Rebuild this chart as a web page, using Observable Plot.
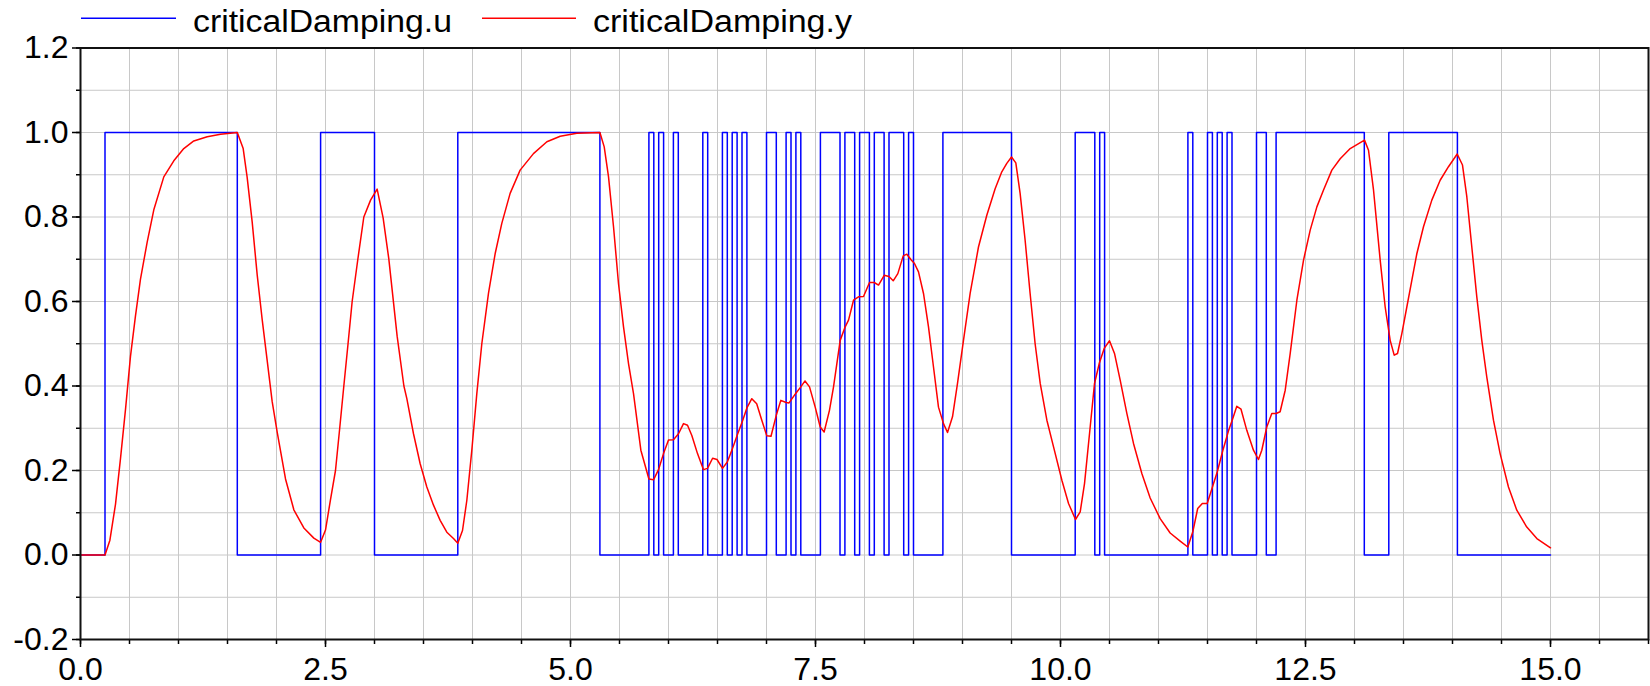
<!DOCTYPE html>
<html>
<head>
<meta charset="utf-8">
<script src="https://cdn.jsdelivr.net/npm/d3@7"></script>
<script src="https://cdn.jsdelivr.net/npm/@observablehq/plot@0.6"></script>
<style>
  html, body { margin: 0; padding: 0; background: white; }
  #wrap { width: 1650px; height: 686px; position: relative; overflow: hidden; }
  #legend { position: absolute; left: 0; top: 0; z-index: 2; overflow: visible; }
  #chart { position: absolute; left: 0; top: 36px; }
</style>
</head>
<body>
<div id="wrap">
  <div id="chart"></div>
  <svg id="legend" width="1650" height="46"></svg>
</div>
<script>
// ---- Series names / colours ----
const seriesNames = ["criticalDamping.u", "criticalDamping.y"];
const seriesColors = ["#0000ff", "#ff0000"];

// ---- criticalDamping.u : switching times and values (step signal) ----
const uTimes = [0, 0.25, 1.6, 2.45, 3.0, 3.85, 5.3, 5.8, 5.85, 5.9, 5.95, 6.05, 6.1, 6.35, 6.4,
  6.55, 6.6, 6.65, 6.7, 6.75, 6.8, 7.0, 7.1, 7.2, 7.25, 7.3, 7.35, 7.55, 7.75, 7.8, 7.9,
  7.95, 8.05, 8.1, 8.2, 8.25, 8.4, 8.45, 8.5, 8.8, 9.5, 10.15, 10.35, 10.4, 10.45, 11.3,
  11.35, 11.5, 11.55, 11.6, 11.65, 11.7, 11.75, 12.0, 12.1, 12.2, 13.1, 13.35, 14.05, 15.0];
const uValues = [0, 1, 0, 1, 0, 1, 0, 1, 0, 1, 0, 1, 0, 1, 0,
  1, 0, 1, 0, 1, 0, 1, 0, 1, 0, 1, 0, 1, 0, 1, 0,
  1, 0, 1, 0, 1, 0, 1, 0, 1, 0, 1, 0, 1, 0, 1,
  0, 1, 0, 1, 0, 1, 0, 1, 0, 1, 0, 1, 0, 0];

const yTimes = [0, 0.25, 0.30, 0.357, 0.408, 0.459, 0.51, 0.561, 0.612, 0.68, 0.748, 0.85, 0.952,
  1.054, 1.156, 1.293, 1.429, 1.6, 1.66, 1.70, 1.752, 1.803, 1.854, 1.905, 1.956, 2.007,
  2.092, 2.177, 2.279, 2.381, 2.45, 2.5, 2.551, 2.602, 2.645, 2.687, 2.73, 2.772, 2.83,
  2.891, 2.96, 3.027, 3.088, 3.146, 3.231, 3.30, 3.33, 3.398, 3.466, 3.534, 3.602, 3.67,
  3.738, 3.806, 3.85, 3.898, 3.942, 3.993, 4.044, 4.095, 4.163, 4.231, 4.299, 4.384,
  4.486, 4.622, 4.759, 4.895, 5.065, 5.3, 5.344, 5.388, 5.439, 5.49, 5.541, 5.592, 5.643,
  5.718, 5.80, 5.847, 5.898, 5.949, 6.0, 6.051, 6.102, 6.153, 6.194, 6.238, 6.296, 6.357,
  6.398, 6.45, 6.495, 6.551, 6.60, 6.65, 6.70, 6.755, 6.80, 6.85, 6.90, 6.952, 7.003,
  7.046, 7.099, 7.146, 7.20, 7.23, 7.30, 7.35, 7.393, 7.439, 7.497, 7.548, 7.588, 7.643,
  7.684, 7.718, 7.752, 7.803, 7.837, 7.888, 7.939, 7.99, 8.051, 8.099, 8.143, 8.201,
  8.25, 8.293, 8.34, 8.395, 8.432, 8.475, 8.51, 8.551, 8.602, 8.653, 8.704, 8.755, 8.806,
  8.847, 8.898, 8.949, 9.01, 9.078, 9.163, 9.248, 9.333, 9.401, 9.452, 9.5, 9.544, 9.588,
  9.639, 9.69, 9.741, 9.793, 9.861, 9.929, 10.014, 10.082, 10.153, 10.201, 10.245, 10.296,
  10.347, 10.395, 10.446, 10.5, 10.551, 10.609, 10.677, 10.745, 10.83, 10.915, 11.017,
  11.119, 11.221, 11.299, 11.35, 11.40, 11.447, 11.497, 11.548, 11.60, 11.657, 11.716,
  11.752, 11.799, 11.842, 11.901, 11.969, 12.02, 12.054, 12.105, 12.156, 12.2, 12.241,
  12.293, 12.344, 12.412, 12.48, 12.548, 12.616, 12.684, 12.769, 12.854, 12.956, 13.102,
  13.143, 13.194, 13.262, 13.313, 13.364, 13.405, 13.439, 13.483, 13.534, 13.585, 13.636,
  13.704, 13.789, 13.874, 13.959, 14.048, 14.102, 14.146, 14.197, 14.248, 14.299, 14.35,
  14.418, 14.486, 14.571, 14.656, 14.758, 14.861, 15.0];
const yValues = [0, 0, 0.035, 0.12, 0.228, 0.344, 0.47, 0.566, 0.653, 0.74, 0.817, 0.895, 0.933,
  0.962, 0.98, 0.99, 0.996, 1.0, 0.962, 0.895, 0.788, 0.663, 0.557, 0.46, 0.363, 0.291,
  0.18, 0.107, 0.064, 0.04, 0.03, 0.059, 0.131, 0.2, 0.3, 0.4, 0.5, 0.6, 0.7,
  0.8, 0.84, 0.866, 0.798, 0.701, 0.518, 0.40, 0.37, 0.287, 0.216, 0.161, 0.118, 0.082,
  0.054, 0.039, 0.028, 0.058, 0.129, 0.248, 0.382, 0.5, 0.619, 0.713, 0.785, 0.856,
  0.911, 0.95, 0.978, 0.991, 0.998, 1.0, 0.966, 0.895, 0.777, 0.642, 0.54, 0.453, 0.382,
  0.248, 0.18, 0.178, 0.202, 0.24, 0.272, 0.273, 0.287, 0.311, 0.307, 0.283, 0.24, 0.202,
  0.205, 0.229, 0.226, 0.205, 0.22, 0.25, 0.283, 0.317, 0.348, 0.370, 0.358, 0.319, 0.282,
  0.281, 0.33, 0.366, 0.361, 0.36, 0.383, 0.398, 0.412, 0.398, 0.35, 0.303, 0.291, 0.343,
  0.398, 0.453, 0.508, 0.54, 0.556, 0.603, 0.611, 0.612, 0.645, 0.645, 0.639, 0.662,
  0.659, 0.649, 0.666, 0.708, 0.712, 0.699, 0.69, 0.67, 0.619, 0.54, 0.445, 0.35, 0.311,
  0.29, 0.327, 0.406, 0.508, 0.619, 0.729, 0.804, 0.867, 0.907, 0.927, 0.942, 0.928, 0.856,
  0.745, 0.619, 0.5, 0.406, 0.319, 0.256, 0.177, 0.122, 0.084, 0.102, 0.169, 0.287,
  0.406, 0.453, 0.489, 0.507, 0.477, 0.414, 0.335, 0.264, 0.193, 0.135, 0.086,
  0.052, 0.033, 0.019, 0.055, 0.11, 0.122, 0.122, 0.159, 0.197, 0.248, 0.295,
  0.319, 0.352, 0.345, 0.295, 0.248, 0.226, 0.248, 0.303, 0.335, 0.335, 0.339,
  0.39, 0.477, 0.603, 0.698, 0.769, 0.824, 0.864, 0.911, 0.938, 0.962, 0.982,
  0.958, 0.864, 0.698, 0.587, 0.508, 0.473, 0.477, 0.524, 0.587, 0.65, 0.713,
  0.777, 0.84, 0.887, 0.919, 0.949, 0.923, 0.848, 0.729, 0.611, 0.508, 0.421,
  0.319, 0.24, 0.161, 0.106, 0.066, 0.039, 0.017];

// ---- Axis ticks / labels ----
const xMajorTicks = [0, 2.5, 5, 7.5, 10, 12.5, 15];
const xMinorTicks = d3.range(0, 33).map(i => i / 2);
const xGridLines = d3.range(1, 32).map(i => i / 2);
const yMajorTicks = [-0.2, 0, 0.2, 0.4, 0.6, 0.8, 1.0, 1.2];
const yMinorTicks = d3.range(-2, 13).map(i => i / 10);
const yGridLines = d3.range(-1, 12).map(i => i / 10);
const fmt = d => d.toFixed(1);

const uData = uTimes.map((t, i) => ({t, v: uValues[i]}));
const yData = yTimes.map((t, i) => ({t, v: yValues[i]}));

const FONT = "'Liberation Sans', Arial, Helvetica, sans-serif";
const gridColor = "#c8c8c8";

const chart = Plot.plot({
  width: 1650,
  height: 650,
  marginTop: 11.5,
  marginBottom: 47,
  marginLeft: 80,
  marginRight: 2,
  style: {fontFamily: FONT, overflow: "visible", background: "white", color: "black"},
  x: {domain: [0, 16], label: null},
  y: {domain: [-0.2, 1.2], label: null},
  marks: [
    Plot.gridX(xGridLines, {stroke: gridColor, strokeOpacity: 1, strokeWidth: 1}),
    Plot.gridY(yGridLines, {stroke: gridColor, strokeOpacity: 1, strokeWidth: 1}),
    Plot.line(uData, {x: "t", y: "v", curve: "step-after", stroke: seriesColors[0], strokeWidth: 1.5}),
    Plot.line(yData, {x: "t", y: "v", stroke: seriesColors[1], strokeWidth: 1.5}),
    Plot.axisX(xMinorTicks, {tickSize: 5, tickFormat: () => "", stroke: "black", strokeWidth: 1.5, label: null}),
    Plot.axisX(xMajorTicks, {tickSize: 8, tickPadding: 10, tickFormat: fmt, fontSize: 32, fill: "black", stroke: "black", strokeWidth: 1.5, label: null}),
    Plot.axisY(yMinorTicks, {tickSize: 4, tickFormat: () => "", stroke: "black", strokeWidth: 1.5, label: null}),
    Plot.axisY(yMajorTicks, {tickSize: 8, tickPadding: 4, tickFormat: fmt, fontSize: 32, fill: "black", stroke: "black", strokeWidth: 1.5, label: null}),
    Plot.frame({stroke: "#111", strokeWidth: 2})
  ]
});
document.getElementById("chart").appendChild(chart);

// ---- Legend (above the plot) ----
const legend = d3.select("#legend");
const legendItems = [
  {name: seriesNames[0], color: seriesColors[0], x0: 81, x1: 176, tx: 193},
  {name: seriesNames[1], color: seriesColors[1], x0: 482, x1: 576, tx: 593}
];
legendItems.forEach(d => {
  legend.append("line").attr("x1", d.x0).attr("x2", d.x1).attr("y1", 18.3).attr("y2", 18.3)
    .attr("stroke", d.color).attr("stroke-width", 1.5);
  legend.append("text").attr("x", d.tx).attr("y", 31.7).text(d.name)
    .attr("font-family", FONT).attr("font-size", 31).attr("fill", "black")
    .attr("textLength", 259).attr("lengthAdjust", "spacingAndGlyphs");
});
</script>
</body>
</html>
